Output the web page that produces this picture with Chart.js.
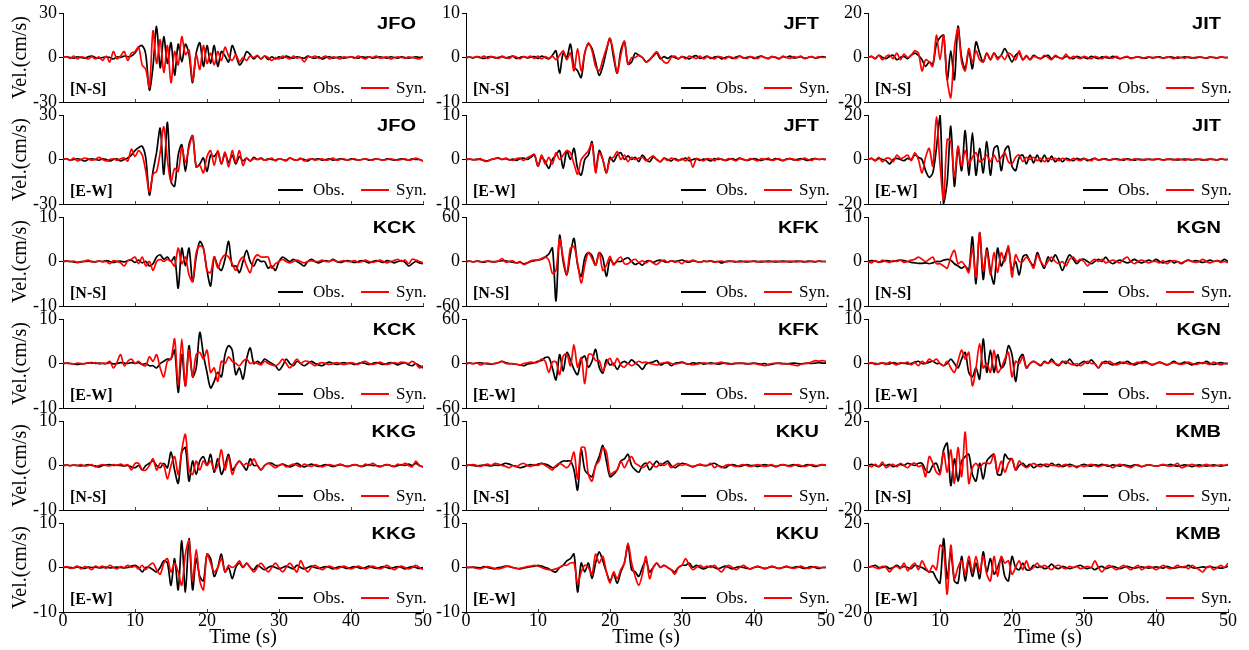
<!DOCTYPE html>
<html>
<head>
<meta charset="utf-8">
<script src="https://cdn.jsdelivr.net/npm/chart.js@4.4.1/dist/chart.umd.min.js"></script>
<style>
  html, body { margin: 0; padding: 0; background: #fff; }
  #fig { position: relative; width: 1249px; height: 650px; overflow: hidden; }
  #fig canvas { position: absolute; }
</style>
</head>
<body>
<div id="fig"></div>
<script>
// time axis (s), 0.5 s step
const time = [0,0.5,1,1.5,2,2.5,3,3.5,4,4.5,5,5.5,6,6.5,7,7.5,8,8.5,9,9.5,
  10,10.5,11,11.5,12,12.5,13,13.5,14,14.5,15,15.5,16,16.5,17,17.5,18,18.5,19,19.5,
  20,20.5,21,21.5,22,22.5,23,23.5,24,24.5,25,25.5,26,26.5,27,27.5,28,28.5,29,29.5,
  30,30.5,31,31.5,32,32.5,33,33.5,34,34.5,35,35.5,36,36.5,37,37.5,38,38.5,39,39.5,
  40,40.5,41,41.5,42,42.5,43,43.5,44,44.5,45,45.5,46,46.5,47,47.5,48,48.5,49,49.5,50];
const timeTicks = [0, 10, 20, 30, 40, 50];

const stations = ['JFO', 'JFT', 'JIT', 'KCK', 'KFK', 'KGN', 'KKG', 'KKU', 'KMB'];
const components = ['[N-S]', '[E-W]'];
const yLimits = [30, 10, 20, 10, 60, 10, 10, 10, 20];

// velocity (cm/s), observed and synthetic
const jfoNsObs = [0,0.5,0,-0.5,0.5,0,-0.5,0.5,1,0, -0.5,0,0.5,0,-1,0.5,0,1,0.5,1,
  3,7,8,2,-22,-6,21,-7,14,-4, 10,-12,9,-3,9,2,-17,3,10,-6,
  8,-4,8,-6,4,1,-3,8,2,-5, -2,4,2,-1,1,-1,1,-1.5,0.5,-1,
  0.5,-0.5,1,0,-0.5,0.5,0,-0.5,1,0, -0.5,0.5,-1,0,0.5,-0.5,0,0.5,-0.5,0,
  0.5,0,-0.5,0.5,0,0.5,-0.5,0,0.5,0, -0.5,0.5,0,-0.5,0.5,0,-0.5,0,0.5,0,0.5];
const jfoNsSyn = [0,0.5,-0.5,1,-1,0.5,0,-1,0.5,-1, 0.5,-2,1,-3,4,-1,1,4,-2,3,
  4,7,-5,-8,-20,18,-4,12,-10,8, -17,4,-5,14,2,5,-16,2,-8,8,
  -4,3,-5,4,-2,7,1,-2,2,-3, 0,-2,1,0,1.5,-1,1,0,-2,0,
  -1,1,0,-1,1,-0.5,0,-3,0.5,0, 1,-0.5,0,1,-1,0.5,0,-1,0.5,0,
  0.5,-0.5,1,0,-1,0.5,0,1,-0.5,0, 0.5,-1,0,0.5,0,-0.5,0.5,0,-0.5,-1,0.5];
const jfoEwObs = [0,0.5,-0.5,0,0.5,0,-1,0,0.5,0, -0.5,0.5,0,-1,0,0.5,-1,0,1,3,
  6,8,9,1,-24,-8,5,21,-10,25, -15,-18,3,10,-8,10,16,-5,-3,1,
  -8,3,2,5,-3,4,-2,3,-3,2, -1,1,-1,1.5,0,1,-0.5,0.5,0,-0.5,
  0.5,0,-0.5,1,0,-0.5,0.5,0,-1,0.5, 0,0.5,-0.5,0,0.5,-0.5,0,0.5,0,-0.5,
  0.5,0,-0.5,0,0.5,-0.5,0,0.5,0,-0.5, 0.5,0,-0.5,0,0.5,0,-0.5,0.5,0,0,-1];
const jfoEwSyn = [0,0.5,-0.5,1,-1,0,1,0.5,-0.5,0, 1.5,0,-1,0,0.5,-0.5,0.5,1,-1,7,
  2,6,3,-8,-22,-10,-8,5,22,0, -15,-6,-8,8,-2,8,16,-5,-4,-9,
  2,6,-4,6,-3,5,-5,6,-2,6, -4,1,-1,0.5,0,0.5,-0.5,0,1,-1,
  0.5,0,-1,1,0,-0.5,1,-1,0,0.5, -0.5,0,0.5,-0.5,0,1,-0.5,0,0.5,-0.5,
  0,0.5,-0.5,0,0.5,0,-0.5,0.5,0,-0.5, 0,0.5,0,-0.5,0,0.5,-0.5,0,1,0,-1];

const jftNsObs = [0,0.1,-0.1,0.2,0,-0.2,0.1,0.2,-0.1,0, 0.2,-0.1,0.1,0.3,-0.2,0,0.2,-0.1,0.1,0.2,
  -0.2,0.3,0,-0.3,0.5,1.5,-3.5,1,0,3, -2,-3,-4.5,1,3,2,-1,-4,-2,1.5,
  4.3,0,-3.5,1.5,3.5,-1.5,-1,1,0.5,0, -1,-0.5,0.3,1,-0.3,0.2,-0.2,0.3,0,-0.3,
  0.2,0,-0.3,0.2,0.4,-0.2,0,0.3,-0.2,0.1, 0.2,-0.3,0,0.2,-0.2,0.1,0.3,-0.1,0,0.2,
  -0.2,0.1,0.3,0,-0.2,0.2,0,-0.3,0.2,0, 0.3,-0.1,0,0.2,-0.2,0,0.2,-0.1,0,0.2,0];
const jftNsSyn = [0,0.1,0,0.2,-0.1,0.3,-0.2,0.2,0.1,-0.2, 0.3,0,-0.2,0.3,0.1,-0.3,0.2,0,0.3,-0.2,
  0.3,-0.3,0.2,-0.2,0.3,-0.5,0.5,1.5,-0.5,1, -3,2,-3,1,3.3,1.5,-2,-3,-0.5,2,
  4.3,1,-3.4,0.5,3.7,-1.5,0,0,0.5,0, -1,-0.5,0.5,1.3,0,-1,-1.2,0,0.3,-0.3,
  0.2,-0.3,0.3,0,-0.2,0.3,-0.3,0.2,0,-0.3, 0.2,0.1,-0.3,0.2,0,-0.2,0.3,0,-0.2,0.2,
  0,-0.2,0.3,0,-0.3,0.2,0.1,-0.2,0.3,0, -0.2,0.2,0,0.3,-0.2,0,0.2,-0.1,0.2,0,0.1];
const jftEwObs = [0,0.1,-0.1,0.1,0,-0.2,-0.3,0,0.2,0.3, 0,0.2,-0.1,0.1,-0.2,0.2,0.3,0,0.5,1,
  -1.5,0.5,-0.5,-2,0,1,2,-2,2,0, 2.5,-2,-3.5,0,1,4,-2.5,2,0,-3,
  0.5,-0.5,1,1.5,0,0.8,0,0.5,-0.5,1, 0,-0.5,0.5,0,-0.5,0.3,0,-0.3,0.2,-0.2,
  0,0.3,-0.3,0,0.2,-0.2,0.1,0,-0.3,0.2, 0,0.1,-0.2,0,0.2,-0.1,0.3,0,-0.2,0,
  0.2,0,-0.2,0.1,0,-0.1,0.2,0,-0.2,0.1, 0.2,-0.1,0,0.2,0,-0.2,0.1,0.2,0,0.1,0];
const jftEwSyn = [0,0.1,0,-0.1,0.2,-0.3,-0.4,0,0.2,0.4, 0,0.3,0,-0.2,0.2,0.3,-0.2,0.4,0.8,1.2,
  -1.5,1,-1,0.5,-1,1.5,0,1,2,1.5, -1,-3.3,0,1,2,3.6,-3,1.5,0,-3,
  0,0.5,1.8,0,1,-0.5,0.5,0,0.3,0.5, -0.3,0.3,0.8,0,-0.5,0.3,-0.2,0.3,0,-0.3,
  0.2,-0.3,0.5,-1.7,0.2,0,-0.3,0.2,0.1,-0.3, 0.3,0,-0.2,0.2,0,-0.3,0.2,0.1,-0.2,0.2,
  0,-0.3,0.2,0,0.3,-0.2,0,0.2,-0.3,0, 0.2,0.1,-0.2,0,0.3,0,-0.2,0.2,0,0.1,0];

const jitNsObs = [0,0.5,-0.5,1,0,-0.5,0.5,1,-1,0, 0.5,-0.5,1,2,1,-1,-4,-2,-3,6,
  9,10,-10,3,-10,14,0,-5,3,-5, 7,2,-2,2,-1,2,0,1,4,1,
  -2,1,2,-1,0.5,-1,1,0,-0.5,0.5, 1,-0.5,0.5,0,-0.5,0.5,0,-0.5,0.5,0,
  0,-0.5,0.5,0,-0.5,0.3,0,-0.3,0.5,0, -0.5,0,0.3,-0.3,0,0.3,0,-0.3,0.2,0,
  0,0.3,-0.3,0,0.3,0,-0.3,0,0.3,0, -0.2,0,0.2,0,-0.3,0.2,0,-0.2,0.2,0,0];
const jitNsSyn = [0,0.5,-0.5,1,-1,0.5,1,-0.5,2,-1, 1.5,0,1,3,2,-6,-1,-2,-4,10,
  -1,10,-10,-18,4,13,-2,-6,4,-2, 3,-1,-2,2,-1,2,-1,1,-1,2,
  1,-1,3,-1,1,-1,0.5,0,-0.5,1, 0,-1,1,0,-0.5,1.5,-0.5,0.5,0,-0.5,
  0.5,0,-0.5,0.5,0,-0.5,0.5,0,-0.3,0.5, -0.5,0,0.5,-0.5,0,0.3,-0.3,0,0.3,-0.3,
  0.3,0,-0.3,0.3,0,-0.5,0.3,0,-0.3,0.3, 0,-0.3,0.3,0,-0.3,0.3,0,-0.2,0.3,0,0];
const jitEwObs = [0,0.5,-0.5,0.5,0,-0.5,-2,0,0.5,0, -0.5,0.5,0,2,1,0,-5,-8,-6,5,
  20,-20,-10,15,-12,5,-5,13,-7,12, -7,5,-6,8,-7,5,6,-5,4,6,
  -3,-5,1,2,-2,2,-1.5,2,-1,2, -1,1.5,-1,0.5,-1,0.5,0,-0.5,0.5,0,
  0.5,-0.5,0,0.5,-0.3,0,0.3,-0.3,0,0.3, 0,-0.3,0.3,0,-0.3,0.2,0,-0.2,0.2,0,
  0,0.2,-0.2,0,0.2,0,-0.2,0,0.2,0, -0.2,0.2,0,-0.2,0,0.2,0,-0.2,0.2,0,0];
const jitEwSyn = [0,0.5,-0.5,1,-1,0.5,0.5,-1,2,0.5, 1,2,-0.5,3,0,-6,1,5,-3,19,
  -2,-18,9,8,-8,6,-3,4,-2,1, 3,-1,0,2,-1,2,-1,1,3,-1,
  -2,1,2,-1,1,0,1,-0.5,0.5,-1, 0.5,0,0.5,-0.5,0.5,0,-0.5,0.5,0,-0.5,
  0.3,0,-0.5,0.5,-0.3,0.3,0,-0.3,0.3,0, -0.3,0.3,0,-0.3,0.3,0,-0.3,0.2,0,-0.2,
  0.3,0,-0.3,0.2,0,-0.2,0.3,0,-0.3,0.2, 0,-0.2,0.2,0,-0.3,0.2,0,-0.2,0.3,0,0];

const kckNsObs = [0,0.1,0,-0.1,-0.2,-0.1,0,0.1,0,-0.1, 0.1,0,0.2,0,-0.2,0,0.1,-0.1,0.2,0.3,
  -0.2,0.3,-0.3,0,-1,-0.5,1,1.5,0.5,1, 0,1,-6,3,-1,3,-4.5,1,4.5,3,
  -2,-5.5,1,-1,-2,0.5,4.5,-1,-1,-2.5, 0,2.5,0,-1,0.5,0,0,-1.5,-1,-2,
  0,1,0.5,0,0.5,0,-0.5,-1,0,0.5, 0,-0.3,0,0.2,0,0.5,0,-0.2,0,0.2,
  0,-0.2,0,0.2,0,-0.3,0,0.2,0,-0.2, 0.2,0,-0.3,0,0.2,-0.2,-1,-0.5,0,-0.3,-0.5];
const kckNsSyn = [0,0.1,0,0.1,-0.2,0,0.1,0.3,-0.1,0, 0.1,-0.1,0,-0.5,0.2,0,-0.3,-1,0.2,0.5,
  1,-0.5,1,-1,0,-2,0,0.5,0,0.5, 0,-1,3,-0.5,1,-3,-4.5,2,3.5,3,
  -2,-2.5,1,-1.5,0.5,1.5,1,-0.5,-2,0, 1,-1,-2.5,0.5,1.5,1,1,1,-1.5,-0.5,
  0,0.5,0,-0.3,0,0.3,0,-0.3,0,0.2, 0,0,0.3,0,0,0.3,0,0,0.2,0,
  0,0.2,-0.2,0,0.3,0,-0.2,0,0.3,0, -0.3,0,0.2,0.5,0,0.3,-0.5,0.5,0.3,0,-0.3];
const kckEwObs = [0,0.1,0,-0.1,-0.2,-0.1,0,0.1,0.2,0, 0.1,0,0,0.2,-0.1,0,0.2,0.1,0,0.2,
  0,0.2,-0.2,0,-0.5,-0.5,-1,0,0.5,1, 1,3,-6.5,2,-5,4,-3,-1,7,2,
  -2,-5.5,-4,-2,-3,2,4,3,-2.5,-1, -3.5,1,3.5,0,0.5,0,1,0.5,0,-0.5,
  -1.5,-0.5,1,0,-0.5,0.5,0,-0.5,0,0.5, 0,-0.3,-0.5,0,0.3,0,-0.2,0,0.2,0,
  0,-0.2,0,0.2,0,-0.2,0,0.2,0,-0.2, 0,0.2,0,-0.3,0,0.2,-0.3,-0.5,0,-0.5,-1];
const kckEwSyn = [0,0.1,0,-0.1,0.1,0,-0.1,0.2,0,0.2, -0.1,0.1,0,0.5,-1,0.3,2,-0.5,0.5,1,
  0,0.5,-0.3,-0.5,1.5,0.5,2,-1,-3,0.5, 1,5.5,-5,5.5,-5,3,-3,2,2.5,1,
  3,-2,-1,-4,0.5,0,1.5,0.5,0,-0.5, 0.5,1,0,0.3,0,-0.3,0.5,0,-0.3,-0.5,
  0,1,0,-1,0,1,0,0.5,0.5,0, -0.5,0,0.2,0,-0.2,0,0.2,0,-0.2,0,
  0.2,0,-0.2,0.3,0.5,0,-0.2,0,0.3,0, -0.2,0,0.2,0,0.3,0.2,0,0.5,0,-1,-0.5];

const kfkNsObs = [0,0.5,-0.5,0.5,0,-1,0.5,0,-0.5,0.5, 1,1,0,-1,-2,-1,-3,-2,0,1,
  2,3,6,10,18,-53,35,0,-18,10, 31,-5,-20,5,12,8,-5,12,5,-20,
  3,-3,0,0,3,5,0,-4,-2,-5, 0,1,-1,1,2,0,-1,1,0,1,
  2,0,-1,1,0,-1,0.5,0,1,-0.5, 0,-2,0,0.5,0,-0.5,0.5,0,-0.5,0,
  0.5,0,-0.5,0,0.5,0,-0.5,0,0.5,0, -0.5,0,0.5,0,-0.5,0.5,0,-0.5,0.5,0,0];
const kfkNsSyn = [0,0.5,-0.5,0.5,-0.5,0,0.5,-0.5,0,0.5, 4,-1,0,1,-2,0,-4,-2,1,2,
  2,4,6,2,-16,-12,30,5,-17,18, 20,-2,-29,-5,12,4,-5,12,-12,-5,
  7,-5,2,6,-3,-3,1,3,-1,1, -2,1,-2,-4,0,2,-1,1,-1,0,
  -3,1,0,2,0,-1,0.5,0,0.5,-1, 0,0.5,-0.5,0,0.5,0,-0.5,0,0.5,0,
  0,-0.5,0.5,0,-0.5,0,0.5,0,-0.5,0, 0.5,0,-0.5,0.5,0,-0.5,0.5,0,0.5,0,0];
const kfkEwObs = [0,0.5,0,0.5,1,0,-0.5,-1,0,1, 3,1,0,-0.5,-1,-2,-3,-1,0,1,
  3,4,8,8,-6,-22,12,-10,15,5, -8,-15,5,10,-5,3,19,-5,-13,5,
  -2,0,-8,0,3,0,5,1,-3,-8, -1,1,2,4,-2,0,1,-3,0,1,
  2,0,-1,1,0,1,-1,0,1,0, -1,0,0.5,0,-0.5,0,0.5,0,-0.5,0,
  0.5,0,-1,0,-2,-1,0,0.5,0,-0.5, 0,0.5,0,-0.5,0,0.5,0,0.5,1,0.5,0.5];
const kfkEwSyn = [0,0.5,-0.5,1,-2,0,0.5,-0.5,0,1, 3,0,-0.5,0,-1,-2,0,1,2,1,
  2,6,3,-12,2,2,-15,10,13,-3, 25,-5,8,-27,12,12,4,4,-10,0,
  7,-3,7,-2,-5,0,-3,0,3,1, 2,0,-1,-2,0,1,2,0,-1,0,
  1,0,-1,-2,-1,0,1,0,-0.5,0, 1,2,0,-1,0,0.5,0,0.5,0,-0.5,
  0,-1,-2,-3,-1,0,0.5,0,-0.5,0, -1,-2,-3,-1,0,0.5,2,4,3,4,3];

const kgnNsObs = [0,0.2,0.1,-0.1,0,0.2,0.1,0,0.2,0.3, 0.2,0,-0.2,-0.3,-0.4,-0.4,-0.3,-0.5,-0.3,0,
  0,0.3,0.5,0.3,-0.5,-1,-1.5,-1,-2,5.5, -5,6.5,-4,3,-2,-5,3,-1,1,3,
  -2,0,-3,1,1.5,0,-1,2,0,-1.5, 1,0,1.5,0,-2,0,1.5,0.5,-0.5,0.3,
  0.5,0,-0.5,0,0.5,0,1,0,-0.5,0, 0.3,0,-0.3,0,0.5,0,-0.3,0,0.3,0,
  0.5,0,-0.3,0,0.2,-0.3,0,-0.5,0,0.3, 0,0.2,0,-0.2,0,0.3,0,0.2,0,0.5,0];
const kgnNsSyn = [0,-0.3,0.2,-0.2,0.3,0,-0.2,0.2,0,0.3, -0.2,0,0.3,0.5,1,0.5,0,0.5,1,-0.5,
  -0.5,-1,-1.5,1,2.5,-0.5,0,-1,-2.5,3, -3.5,6.5,-2,2.5,-3,2,-2.5,2,0,3.5,
  -3.5,1.5,0,0,1,0,-1.5,1.5,0,-1, 0,1,0,-0.5,0,-1,0.5,1,0,0.5,
  0,-1,0,0.5,0,0.5,-0.3,0,0.3,0, -0.3,0.5,1,0,-0.5,0,0.3,0,-0.3,0,
  0,-0.3,0.2,-0.5,0,0.2,0,-0.3,0,0.3, 0,-0.2,0,0.5,0,-0.3,0,0.2,-0.2,0,-0.3];
const kgnEwObs = [0,0.1,0,-0.1,0.1,0,-0.1,0.2,0,0, 0.1,-0.1,0,0.3,0.5,0,0,0.3,0.5,0,
  0,-0.5,0,1,0,-1,1,2.5,-2,-3, -1,-3.5,5.5,-2,3,-2,2,-1,0,4,
  2,-4,1,2,-1,0,0.5,0,-0.5,0.5, 0,1,0,-0.5,0.5,0,1,0,-0.5,0,
  0.5,0,0.8,0,-1,0,0.5,0,-0.3,0, 0.3,0,0.5,0,-0.3,0,0.3,0.5,0,-0.3,
  0,0.3,0,-0.3,0,0.5,0,0,0.3,0, -0.3,0,0.2,0,0.5,0,-0.2,0,0.2,0,0];
const kgnEwSyn = [0,0.2,-0.2,0,0.2,-0.2,0.3,0,-0.3,0.2, 0,0.3,-0.3,0.2,-0.5,0.5,0,1,0.5,1,
  0,-0.5,0.5,-1,-2,0.5,3,1,2.5,-5, -1,4.5,-1,0,-2,3,-2,-1,1,2.5,
  -3,0.5,0,1.5,-1,0,0.5,0,-0.3,0.3, 0,0.5,0,-0.3,0.3,0.5,0,-0.3,0,-0.5,
  0,0.5,0,0,-1,0.3,0,0.5,0,-0.3, 0,0.3,0,-0.2,0,0.3,0,0.2,0,-0.2,
  0,0.2,0,-0.3,0,0.2,0,-0.2,0,0.3, 0,-0.2,0,0.2,0,-0.2,0.3,0,-0.3,0,0];

const kkgNsObs = [0,0.1,0,0.1,0,-0.1,0,0.2,0,-0.1, -0.3,0,0.1,0.2,0,0.1,0,-0.1,0,-0.3,
  -0.5,0,-1,0,0.5,1,0,-0.5,0.5,-0.5, 3,-1,-4,3,4,-3.5,1,-2,1,2,
  0,2.5,-1.5,1.5,-2,0,2.5,-1,0,1, 0,-1,1.5,0,0,-1,0,0.5,0.5,0,
  0,0.3,0,-0.3,0,0.5,0,-0.3,0,0.3, 0,-0.2,0,0.2,0,-0.2,0,0.2,0,-0.2,
  0,0.2,0,-0.2,0,0.2,0,0,-0.2,0, 0.2,0,-0.2,0,0.2,0,0.3,0,0.5,0,-0.3];
const kkgNsSyn = [0,0.1,-0.1,0.1,0,0.2,-0.1,0,0.2,-0.3, 0,0.2,0,-0.1,0.2,0,0.3,0,0.2,-1,
  0.5,0.5,-1,-1,0,1.5,-1,0.5,0,-3, 0,2,-2,3.5,7,-1,-2,1,-1,1,
  0,1,-1,0,3.5,-1,2,-2,0,1, 0,0.5,0,1.5,0,-1,0,0.5,0,-0.5,
  0,0.3,-0.3,0,0.3,0,-0.3,0.3,0,-0.2, 0.2,0,-0.3,0,0.2,0,0,0.3,0,-0.2,
  0,0.2,0,-0.2,0.3,0,0.5,0,-0.3,0, 0.2,0,-0.2,0.3,0,0.5,0,-0.3,1,0,-0.3];
const kkgEwObs = [0,0.1,0,-0.1,0.1,0,-0.2,0.1,0,0.1, -0.1,0,0.1,-0.1,0,0.1,0,-0.1,0,0.3,
  0.5,0,-1,0,0,-0.5,-1,0,1.5,1, -4,2,-5,6,-5.5,6.5,-5,2,-2,-3,
  3,2,-2,0,3,-1,0,-2.5,0,1, 0,1,0,-0.5,0.5,0,-0.5,0,0.3,0,
  -0.3,0,0.3,0,-0.3,0.5,0,-0.3,0,0.3, 0,-0.2,0,0.2,0,-0.3,0,0.2,0,-0.2,
  0,0.2,0,-0.2,0,0.3,0,-0.2,0,0.2, 0,-0.2,0,0.2,0,-0.3,0,0.2,0,-0.2,0];
const kkgEwSyn = [0,0.2,-0.2,0,0.3,-0.3,0.2,0,-0.5,0.3, 0,0.3,-0.2,0.5,0,-0.3,0.2,0,0.5,0,
  0.3,-0.3,0.5,-0.5,0.5,1,-0.5,-1.5,1,2, -1,1,-1,-4,3,6,-3,4,-3,-5,
  3,1,-1,0,2,-1,0.5,0,0.5,1.5, 0,1,0,-1,0,1,0,-1,0,1,
  0,-1,0,1,0,-1,1.5,0,-1,0, 0.5,0,-0.5,0,0.3,0,-0.3,0,0.3,0,
  -0.3,0,0.3,0,-0.3,0,0.3,0,-0.3,0, 0.5,0,-0.5,0,0.3,0,-0.3,0,0.5,0,-0.5];

const kkuNsObs = [0,0.1,0,-0.1,0,0.1,0,-0.1,0.1,0, 0.2,0.5,0.3,0,-0.2,-0.5,-0.3,0,0.2,0,
  0.3,0.5,0.3,0,-0.5,-0.3,0.5,1,1,1, -1,-5.5,3.5,-1,-2,-2.5,0,2,4.5,1,
  -2.5,-2,-1,1,1.5,2.5,0,-1,-1.5,0, 0.5,-1,0,1,0,0.5,1,0,-0.5,0,
  0.5,0.3,0,-0.3,0,0.2,0,0,0.3,0.5, 0,-0.3,-0.5,0,0.2,0,-0.2,0,0.2,0,
  0,-0.2,0,0.2,0,0,-0.2,0,0.2,0, 0,0.2,0,-0.2,0,0.2,0,-0.2,0,0.2,0];
const kkuNsSyn = [0,0.1,0.2,0,-0.2,0.1,0.3,0,0.5,0.3, 0,-0.2,-0.5,0,-0.3,0.2,0.5,0,-0.2,0.2,
  0,0.5,0,-0.5,-1,0,0.5,0,-0.5,0.5, 3,-3,4,4,-2,-3.5,0,1,4,3,
  -2,-1.5,-1,1,-0.5,1,2,0.5,0,-0.5, 0,0.8,0,-0.3,0.5,0,0.5,-0.5,0,0.5,
  0,0.3,0,-0.2,0,0.3,0,0,0.5,-0.5, 0,-0.5,0,0.2,0,-0.2,0,0.2,0,-0.2,
  0,0.2,0,-0.2,0,0.2,-0.3,0,0.2,0, -0.2,0,0.2,0,-0.2,0,0.2,0,0,0.2,0];
const kkuEwObs = [0,0,0.1,0,-0.1,0.2,0,-0.2,-0.3,0, 0.1,0.3,0.2,0,-0.2,-0.3,-0.1,0,0.2,0.3,
  0.5,0.3,0,-0.3,-0.8,-1,0,0.5,1.5,2, 3,-5.5,1,-1,1,-2.5,1,3.5,1.5,-1,
  -3,-1.5,-3.5,-1,1,5,-0.5,-1,-2,0, 1.5,-1,0,1,0,0.5,0,-0.5,-1,0,
  0.5,0.5,1,0,0.5,0,-0.3,0,0.3,0, -0.3,0,0.3,0,-0.3,0,0.2,0,-0.2,-0.3,
  0,0.2,0,-0.2,0,0.2,0,-0.2,0,0.2, 0,0,0.2,0,-0.2,0,0.2,0,-0.2,0,0];
const kkuEwSyn = [0,0.1,0,-0.2,-0.3,0,0.2,0,-0.2,-0.3, -0.1,0.2,0.3,0,-0.2,-0.2,0,0.2,0.3,0.5,
  0.3,0,-0.3,-0.5,-0.5,-0.3,0,0.5,0.5,1, 1,-3.5,-1,0.5,0,-1.5,3,1,2.5,-1,
  -3.5,-1,-2.5,-0.5,1,5.5,1,-2,-4,-1.5, 2.5,-2.5,0,1,0,0.5,0,-0.5,-1.5,0,
  0.5,2,0.5,-0.5,0,0.5,0,0.3,0,0.5, -0.3,-1,0,0.5,0,-0.5,0,0.5,0,-0.3,
  0,0.3,0,-0.3,0,0.3,0,-0.2,0,0.3, 0,-0.2,0,0.3,0,-0.2,0,0.2,0,0,0];

const kmbNsObs = [0,0.5,0,-0.5,0.5,0,0.5,-0.5,0,0.5, 0,1,0.5,0,1,1,-2,-3,0,1,
  -3,7,10,-9,3,-7,2,4,5,-4, -7,1,-6,2,4,5,-4,-4,5,3,
  3,-2,0,1,-0.5,0.5,-1,0,0.5,0, -0.5,1,0,0.5,-0.5,0,0.5,0,-0.5,0,
  0.5,0,-0.3,0.3,0,0.5,0,-0.3,0.3,0, -0.3,0.3,0,-0.3,0.3,0,-0.5,0,0.3,0,
  -0.3,0,0.3,0,0.5,0,-0.3,0,0.3,0, -0.5,0,0.3,0,-0.3,0,0.3,0,-0.3,0,0.3];
const kmbNsSyn = [0,-0.5,0.5,-0.5,1.5,-1,0,0.5,-0.5,1, 0,-1,0.5,1,-0.5,0,-5,4,1,-3,
  -4,6,-3,7,-8,8,-5,15,-8,-1, 1,-1,1,1,1,5,-3,2,-3,1,
  3,-2,2,0,-1,0,1,0,-0.5,0.5, 0.5,0,0,-0.5,0,0.5,-0.5,0,-1,0,
  -0.5,0,0.5,0,-0.5,0,0.3,0,-1,0, 0.5,0,-0.5,-1,0,0.3,-0.5,0,0.3,0,
  -0.3,0,0.5,0,-0.3,0,1,-1,-0.5,0, 0.5,0,-0.5,0,0.5,0,-0.3,0,0.3,0,0.5];
const kmbEwObs = [0,0.5,1,0,0,0.5,-0.5,0,1,0, 0.5,0,-0.5,1,0.5,0,-1,-2,-2,-5,
  -7,13,-5,7,-6,-7,5,-6,3,-4, 2,-5,7,-2,4,-3,0,4,-4,-6,
  5,0,-1,2,-1,-1,1,0,0.5,-0.5, 0,1.5,0,-0.5,0.5,0,-0.5,0,0.5,1,
  0,-0.5,0,-1,0,0.5,-0.5,0,0.5,0, -0.5,0,0.5,0,-0.3,0,0.3,0,-0.3,0,
  0.3,0,-0.3,0.5,0,-0.3,0,0.3,0,1, 0,-0.3,0,0.3,0,0.5,0,0,-0.3,0,0.5];
const kmbEwSyn = [0,0.5,0,-0.5,0.5,0,-2,0,0.5,-0.5, 2,-1.5,0.5,2,-1,3,0,-2,1,-1,
  10,8,-12,10,-5,0,3,-3,5,-2, 5,-2,5,-3,-6,5,-4,5,2,3,
  -3,0,3,-1,3,-1,0,2,0,1, 0,-1,0.5,1,0,-0.5,0.5,0,0.5,-0.5,
  0,0.5,0,3,0,-2,0,1,0,-1, 0,1,0,-1,0,1,-1,0,0.5,0,
  -1,0,1,0,-0.5,0,1,0,0.5,-0.5, 1,0,-1,-2,0,0.5,-1,0,1,0,2];

// [obs, syn] per component, per station
const records = {
  JFO: [[jfoNsObs, jfoNsSyn], [jfoEwObs, jfoEwSyn]],
  JFT: [[jftNsObs, jftNsSyn], [jftEwObs, jftEwSyn]],
  JIT: [[jitNsObs, jitNsSyn], [jitEwObs, jitEwSyn]],
  KCK: [[kckNsObs, kckNsSyn], [kckEwObs, kckEwSyn]],
  KFK: [[kfkNsObs, kfkNsSyn], [kfkEwObs, kfkEwSyn]],
  KGN: [[kgnNsObs, kgnNsSyn], [kgnEwObs, kgnEwSyn]],
  KKG: [[kkgNsObs, kkgNsSyn], [kkgEwObs, kkgEwSyn]],
  KKU: [[kkuNsObs, kkuNsSyn], [kkuEwObs, kkuEwSyn]],
  KMB: [[kmbNsObs, kmbNsSyn], [kmbEwObs, kmbEwSyn]]
};

// page layout of the plot boxes
const colLeft = [63, 466, 868];
const rowTop = [13, 115, 217, 319, 421, 523];
const plotW = 360, plotH = 89;
const serif = '"Liberation Serif", "Times New Roman", serif';
const sans = '"Liberation Sans", Arial, sans-serif';

Chart.defaults.font.family = serif;
Chart.defaults.color = '#000';

// station name, component, inward time ticks and the little legend
const panelDecor = {
  id: 'panelDecor',
  afterDatasetsDraw(chart, args, opts) {
    const { ctx, chartArea: a } = chart;
    const x = chart.scales.x;
    ctx.save();
    ctx.strokeStyle = '#444';
    ctx.lineWidth = 1;
    timeTicks.slice(1).forEach(v => {
      const px = Math.round(x.getPixelForValue(v)) + 0.5;
      ctx.beginPath();
      ctx.moveTo(px, a.bottom);
      ctx.lineTo(px, a.bottom - 3);
      ctx.stroke();
    });

    ctx.fillStyle = '#000';
    ctx.textBaseline = 'alphabetic';
    ctx.save();
    ctx.translate(a.right - 7, a.top + 16);
    ctx.scale(1.25, 1);
    ctx.font = 'bold 16px ' + sans;
    ctx.textAlign = 'right';
    ctx.fillText(opts.station, 0, 0);
    ctx.restore();

    ctx.font = 'bold 16px ' + serif;
    ctx.textAlign = 'left';
    ctx.fillText(opts.comp, a.left + 7, a.bottom - 8);

    const ds = chart.data.datasets;
    const items = [[a.right - 145, a.right - 120, a.right - 110, ds[0]],
                   [a.right - 62, a.right - 34, a.right - 27, ds[1]]];
    ctx.font = '17px ' + serif;
    items.forEach(([x1, x2, tx, d]) => {
      ctx.strokeStyle = d.borderColor;
      ctx.lineWidth = 2;
      ctx.beginPath();
      ctx.moveTo(x1, a.bottom - 14);
      ctx.lineTo(x2, a.bottom - 14);
      ctx.stroke();
      ctx.fillText(d.label, tx, a.bottom - 9);
    });
    ctx.restore();
  }
};

const fig = document.getElementById('fig');

for (let r = 0; r < 6; r++) {
  for (let c = 0; c < 3; c++) {
    const si = Math.floor(r / 2) * 3 + c;
    const comp = r % 2;
    const station = stations[si];
    const lim = yLimits[si];
    const [obs, syn] = records[station][comp];
    const bottomRow = r === 5;

    const leftSpace = c === 0 ? 63 : 45;
    const padTop = 12, padRight = 14;
    const xh = bottomRow ? 36 : 0;
    const padBottom = bottomRow ? 2 : 12;

    const cv = document.createElement('canvas');
    cv.width = leftSpace + plotW + padRight;
    cv.height = padTop + plotH + xh + padBottom;
    cv.style.left = (colLeft[c] - leftSpace) + 'px';
    cv.style.top = (rowTop[r] - padTop) + 'px';
    fig.appendChild(cv);

    new Chart(cv, {
      type: 'line',
      data: {
        datasets: [
          { label: 'Obs.', data: obs.map((v, i) => ({ x: time[i], y: v })),
            borderColor: '#000000', borderWidth: 1.7, pointRadius: 0, tension: 0.3, order: 1 },
          { label: 'Syn.', data: syn.map((v, i) => ({ x: time[i], y: v })),
            borderColor: '#ff0000', borderWidth: 1.7, pointRadius: 0, tension: 0.3, order: 0 }
        ]
      },
      options: {
        responsive: false,
        animation: false,
        devicePixelRatio: 1,
        layout: { padding: { left: 0, top: padTop, right: padRight, bottom: padBottom } },
        plugins: {
          legend: { display: false },
          tooltip: { enabled: false },
          panelDecor: { station: station, comp: components[comp] }
        },
        scales: {
          x: {
            type: 'linear', min: 0, max: 50,
            afterBuildTicks: s => { s.ticks = timeTicks.map(v => ({ value: v })); },
            afterFit: s => { s.height = xh; },
            grid: { display: false, drawTicks: false },
            border: { display: true, color: '#000', width: 1 },
            ticks: { display: bottomRow, color: '#000', padding: 0, maxRotation: 0, autoSkip: false,
                     font: { family: serif, size: 18, lineHeight: 1 } },
            title: { display: bottomRow, text: 'Time (s)', color: '#000', padding: { top: 0, bottom: 0 },
                     font: { family: serif, size: 20, lineHeight: 1 } }
          },
          y: {
            min: -lim, max: lim,
            afterBuildTicks: s => { s.ticks = [-lim, 0, lim].map(v => ({ value: v })); },
            afterFit: s => { s.width = leftSpace; },
            grid: { drawOnChartArea: false, drawTicks: true, tickLength: 4, color: '#000' },
            border: { display: true, color: '#000', width: 1 },
            ticks: { color: '#000', padding: 2, autoSkip: false,
                     font: { family: serif, size: 18, lineHeight: 1 } },
            title: { display: c === 0, text: 'Vel.(cm/s)', color: '#000', padding: { top: 9, bottom: 0 },
                     font: { family: serif, size: 20, lineHeight: 1.2 } }
          }
        }
      },
      plugins: [panelDecor]
    });
  }
}
</script>
</body>
</html>
